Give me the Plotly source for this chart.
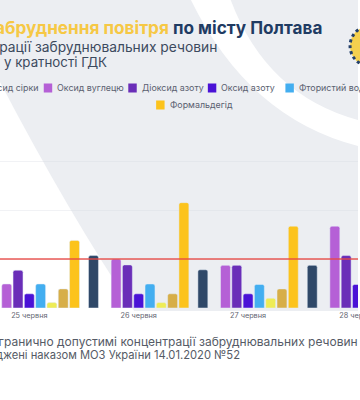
import plotly.graph_objects as go

# ---------------- data ----------------
dates = ["25 червня", "26 червня", "27 червня", "28 червня"]

series_names = ["Пил", "Діоксид сірки", "Оксид вуглецю", "Діоксид азоту", "Оксид азоту",
                "Фтористий водень", "Аміак", "Сажа", "Формальдегід"]
pyl = [0.90, 1.07, 0.78, 0.87]
dioksyd_sirky = [None, None, None, None]
oksyd_vuhletsiu = [0.49, 1.00, 0.87, 1.67]
dioksyd_azotu = [0.77, 0.88, 0.87, 1.07]
oksyd_azotu = [0.29, 0.29, 0.29, 0.48]
ftorystyi_voden = [0.49, 0.49, 0.48, 0.45]
amiak = [0.11, 0.11, 0.20, 0.15]
sazha = [0.39, 0.29, 0.39, 0.35]
formaldehid = [1.38, 2.15, 1.67, 1.50]
series_values = [pyl, dioksyd_sirky, oksyd_vuhletsiu, dioksyd_azotu, oksyd_azotu,
                 ftorystyi_voden, amiak, sazha, formaldehid]
series_colors = ["#2f4868", "#8e9ab3", "#b560d6", "#6a2eb8", "#4a12d6",
                 "#43aef0", "#eeec55", "#d7ae48", "#fcc31c"]
gdk_level = 1.0

# ---------------- helpers (design pixel -> paper) ----------------
W0, H0 = 360, 400
W, H = 376, 400
def X(px):
    return px / W0
def Y(py):
    return 1 - py / H0
def path(cmds):
    out = []
    for cmd, pts in cmds:
        out.append(cmd + " " + " ".join(f"{X(a):.4f},{Y(b):.4f}" for a, b in pts))
    return " ".join(out) + " Z"

fig = go.Figure()
for name, vals, col in zip(series_names, series_values, series_colors):
    fig.add_trace(go.Bar(x=dates, y=vals, name=name, marker=dict(color=col, cornerradius=2),
                         showlegend=False, hoverinfo="skip"))

shapes = []
grey = "#eceef2"
shapes.append(dict(type="path", xref="paper", yref="paper", layer="below", line=dict(width=0),
                   fillcolor=grey,
                   path=path([("M", [(135, 311)]),
                              ("Q", [(70, 215), (0, 82)]),
                              ("L", [(0, 0)]),
                              ("L", [(360, 0)]),
                              ("L", [(360, 311)])])))
shapes.append(dict(type="path", xref="paper", yref="paper", layer="below", line=dict(width=0),
                   fillcolor="white",
                   path=path([("M", [(192, 0)]),
                              ("Q", [(250, 118), (360, 146)]),
                              ("L", [(360, 120)]),
                              ("Q", [(268, 95), (232, 0)])])))
# logo (partially visible)
shapes.append(dict(type="circle", xref="paper", yref="paper", layer="below",
                   x0=X(352), x1=X(392), y0=Y(66), y1=Y(26),
                   fillcolor="#f4d04e", line=dict(color="#24406b", width=3, dash="dot")))
# GDK red line
shapes.append(dict(type="line", xref="paper", yref="y", x0=0, x1=1, y0=gdk_level, y1=gdk_level,
                   line=dict(color="rgba(232,72,66,0.9)", width=1.5), layer="above"))

annotations = []
annotations.append(dict(xref="paper", yref="paper", x=X(326), y=Y(27), xanchor="right", yanchor="middle",
                        showarrow=False,
                        text="<b><span style='color:#f6c845'>Забруднення повітря</span> по місту Полтава</b>",
                        font=dict(family="Inter", size=17.2, color="#1f3b63")))
annotations.append(dict(xref="paper", yref="paper", x=X(220), y=Y(47), xanchor="right", yanchor="middle",
                        showarrow=False, text="Концентрації забруднювальних речовин",
                        font=dict(family="Inter", size=13.8, color="#3c4a5e")))
annotations.append(dict(xref="paper", yref="paper", x=X(110), y=Y(62), xanchor="right", yanchor="middle",
                        showarrow=False, text="(мг/м³) і у кратності ГДК",
                        font=dict(family="Inter", size=13.3, color="#3c4a5e")))
annotations.append(dict(xref="paper", yref="paper", x=X(362), y=Y(341), xanchor="right", yanchor="middle",
                        showarrow=False,
                        text="*Середньодобові гранично допустимі концентрації забруднювальних речовин",
                        font=dict(family="Inter", size=12, color="#555b66")))
annotations.append(dict(xref="paper", yref="paper", x=X(243), y=Y(355), xanchor="right", yanchor="middle",
                        showarrow=False, text="затверджені наказом МОЗ України 14.01.2020 №52",
                        font=dict(family="Inter", size=11.2, color="#555b66")))

legend_pos = {
    "Пил": (-80, 88), "Діоксид сірки": (-36, 88), "Оксид вуглецю": (44, 88),
    "Діоксид азоту": (129, 88), "Оксид азоту": (209, 88), "Фтористий водень": (287, 88),
    "Аміак": (390, 88), "Сажа": (445, 88), "Формальдегід": (157, 105),
}
for name, col in zip(series_names, series_colors):
    sx, sy = legend_pos[name]
    shapes.append(dict(type="rect", xref="paper", yref="paper", layer="below",
                       x0=X(sx), x1=X(sx + 8.5), y0=Y(sy + 4.5), y1=Y(sy - 4.5),
                       fillcolor=col, line=dict(width=0)))
    annotations.append(dict(xref="paper", yref="paper", x=X(sx + 11.5), y=Y(sy), xanchor="left",
                            yanchor="middle", showarrow=False, text=name,
                            font=dict(family="Inter", size=8.9, color="#5a6070")))

fig.update_layout(
    width=W, height=H,
    margin=dict(l=0, r=0, t=0, b=0),
    paper_bgcolor="white", plot_bgcolor="rgba(0,0,0,0)",
    barmode="group", bargap=0.07, bargroupgap=0.12,
    showlegend=False,
    shapes=shapes, annotations=annotations,
    xaxis=dict(domain=[0, 1], range=[-0.268, 3.005], type="category",
               showgrid=False, zeroline=False, showline=False, ticks="",
               ticklabelstandoff=2,
               tickfont=dict(family="Inter", size=7.3, color="#5f6470")),
    yaxis=dict(domain=[Y(308), Y(308 - 3.2 * 49)], range=[0, 3.2],
               tickvals=[1, 2, 3], showticklabels=False, showgrid=True,
               gridcolor="rgba(215,218,225,0.35)", gridwidth=1, zeroline=False, showline=False),
)

fig.write_html(
    "out.html",
    config={"displayModeBar": False, "staticPlot": True},
    post_script=("document.documentElement.style.margin='0px';"
                 "document.documentElement.style.overflow='hidden';"
                 "document.body.style.margin='0px';"
                 "document.body.style.padding='0px';"
                 "document.body.style.overflow='hidden';"),
)
